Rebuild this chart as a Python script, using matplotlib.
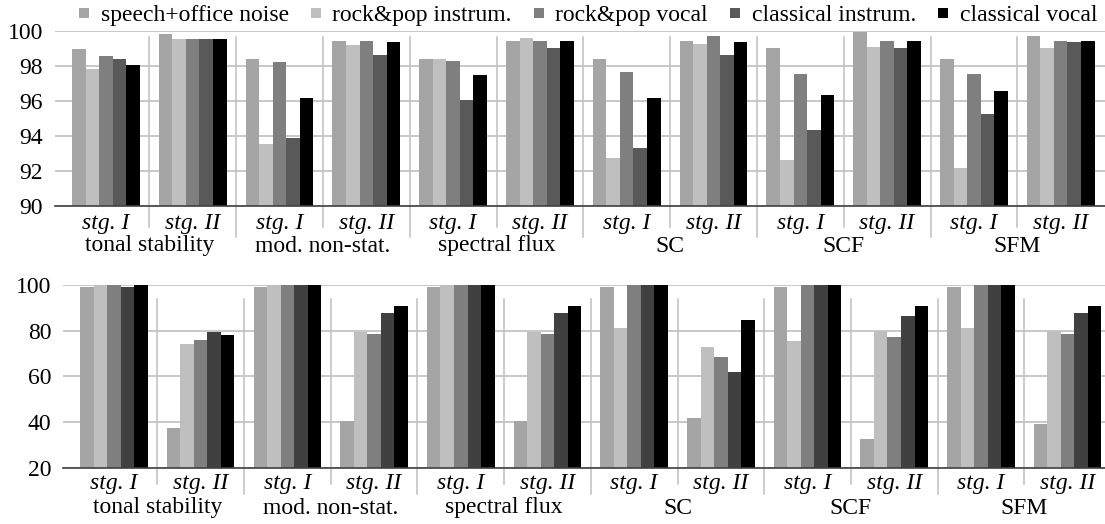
import numpy as np
import matplotlib
matplotlib.use("Agg")
import matplotlib.pyplot as plt
import matplotlib.transforms as mtransforms
from matplotlib.lines import Line2D

plt.rcParams['font.family'] = 'serif'
plt.rcParams['font.serif'] = ['Liberation Serif', 'DejaVu Serif']

features = ["tonal stability", "mod. non-stat.", "spectral flux", "SC", "SCF", "SFM"]
stages = ["stg. I", "stg. II"]
series = ["speech+office noise", "rock&pop instrum.", "rock&pop vocal",
          "classical instrum.", "classical vocal"]

# order: tonal I, tonal II, mod I, mod II, flux I, flux II, SC I, SC II, SCF I, SCF II, SFM I, SFM II
top_speech = [98.94, 99.81, 98.38, 99.41, 98.38, 99.41, 98.38, 99.41, 99.01, 99.93, 98.38, 99.70]
top_rock_instr = [97.80, 99.53, 93.50, 99.18, 98.38, 99.58, 92.73, 99.24, 92.60, 99.07, 92.15, 99.01]
top_rock_vocal = [98.55, 99.53, 98.20, 99.41, 98.27, 99.41, 97.64, 99.70, 97.53, 99.41, 97.53, 99.41]
top_class_instr = [98.38, 99.53, 93.87, 98.60, 96.04, 99.01, 93.30, 98.60, 94.33, 99.01, 95.24, 99.35]
top_class_vocal = [98.04, 99.53, 96.15, 99.35, 97.47, 99.41, 96.15, 99.35, 96.33, 99.41, 96.56, 99.41]

bot_speech = [99.1, 37.5, 99.1, 40.4, 99.1, 40.4, 99.1, 41.8, 99.1, 32.6, 99.1, 39.3]
bot_rock_instr = [100, 74.3, 100, 79.4, 100, 79.4, 81.0, 72.8, 75.5, 79.9, 81.2, 79.9]
bot_rock_vocal = [100, 75.9, 100, 78.5, 100, 78.5, 100, 68.5, 100, 77.2, 100, 78.5]
bot_class_instr = [99.1, 79.4, 100, 87.7, 100, 87.7, 100, 61.9, 100, 86.4, 100, 87.7]
bot_class_vocal = [100, 78.1, 100, 90.8, 100, 90.8, 100, 84.7, 100, 90.8, 100, 90.8]

top_ticks = [90, 92, 94, 96, 98, 100]
bot_ticks = [20, 40, 60, 80, 100]

top_colors = ['#A5A5A5', '#BFBFBF', '#7F7F7F', '#595959', '#000000']
bot_colors = ['#A5A5A5', '#BFBFBF', '#7F7F7F', '#404040', '#000000']

W, H = 1105, 524
FS = 17
fig = plt.figure(figsize=(W / 100, H / 100), dpi=100)


def px_axes(left, right, top, bottom):
    return fig.add_axes([left / W, 1 - bottom / H, (right - left) / W, (bottom - top) / H])


def draw_panel(ax, data, colors, ylim, ticks, cat_left, cat_w, ax_left, ax_right,
               sep_top, stg_bot, feat_bot, stg_y, feat_y):
    n = len(data[0])
    x = np.arange(n)
    bw = 0.78 / len(data)
    for i, (vals, c) in enumerate(zip(data, colors)):
        ax.bar(x + (i - 2) * bw, vals, width=bw, color=c, linewidth=0, zorder=2)
    ax.set_ylim(*ylim)
    ax.set_xlim(-0.5 - (cat_left - ax_left) / cat_w, -0.5 + (ax_right - cat_left) / cat_w)
    ax.set_yticks(ticks)
    ax.yaxis.grid(True, color='#BFBFBF', linewidth=1.2, zorder=0)
    ax.set_axisbelow(True)
    ax.set_xticks([])
    ax.tick_params(axis='y', length=0, pad=8.5, labelsize=FS)
    for s in ['top', 'right', 'left']:
        ax.spines[s].set_visible(False)
    ax.spines['bottom'].set_color('#404040')
    ax.spines['bottom'].set_linewidth(1.2)
    ax.spines['bottom'].set_zorder(3)

    # category separators (Excel multi-level axis look)
    tr = ax.get_xaxis_transform()
    for b in range(1, n):
        xb = b - 0.5
        bot = feat_bot if b % 2 == 0 else stg_bot
        ax.plot([xb, xb], [sep_top, bot], transform=tr, color='#BFBFBF',
                linewidth=1.1, clip_on=False, zorder=1)

    ft = mtransforms.blended_transform_factory(ax.transData, fig.transFigure)
    for k in range(n):
        ax.text(k, 1 - stg_y / H, stages[k % 2], transform=ft, ha='center', va='center',
                fontsize=FS, style='italic')
    for f, name in enumerate(features):
        ax.text(2 * f + 0.5, 1 - feat_y / H, name, transform=ft, ha='center', va='center',
                fontsize=FS)


top_data = [top_speech, top_rock_instr, top_rock_vocal, top_class_instr, top_class_vocal]
bot_data = [bot_speech, bot_rock_instr, bot_rock_vocal, bot_class_instr, bot_class_vocal]

ax1 = px_axes(55, 1105, 30.7, 205.7)
draw_panel(ax1, top_data, top_colors, (90, 100), top_ticks, 62.5, 86.8, 55, 1105,
           0.965, -0.119, -0.179, 224, 246)

ax2 = px_axes(63.3, 1113, 285, 467.7)
draw_panel(ax2, bot_data, bot_colors, (20, 100), bot_ticks, 70.6, 86.7, 63.3, 1113,
           0.923, -0.089, -0.144, 484, 508)

handles = [Line2D([], [], marker='s', linestyle='none', markersize=6.5, color=c,
                  markeredgewidth=0) for c in top_colors]
fig.legend(handles, series, loc='center', bbox_to_anchor=(587 / W, 1 - 15 / H), ncol=5,
           frameon=False, fontsize=FS, handlelength=0.6, handletextpad=0.4,
           columnspacing=0.85, borderpad=0, borderaxespad=0)

fig.savefig('out.png', dpi=100)
